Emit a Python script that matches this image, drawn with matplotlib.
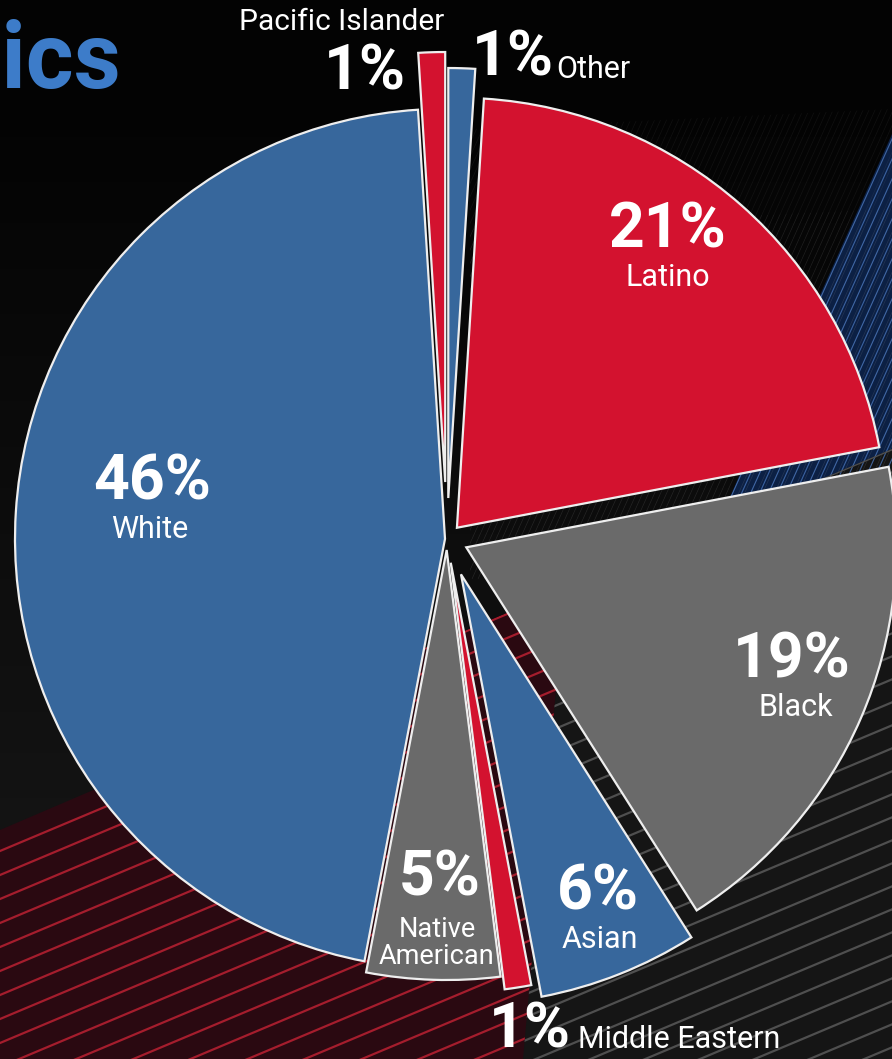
import numpy as np
import matplotlib
matplotlib.use("Agg")
import matplotlib.pyplot as plt
from matplotlib.patches import Polygon

# ---------------- data ----------------
categories = ["Other", "Latino", "Black", "Asian", "Middle Eastern",
              "Native American", "White", "Pacific Islander"]
values = [1, 21, 19, 6, 1, 5, 46, 1]
name_labels = ["Other", "Latino", "Black", "Asian", "Middle Eastern",
               "Native\nAmerican", "White", "Pacific Islander"]
title_text = "Demographics"

# ---------------- style ----------------
BLUE = "#37679c"
RED = "#d3122f"
GRAY = "#6a6a6a"
colors = [BLUE, RED, GRAY, BLUE, RED, GRAY, BLUE, RED]
explode = [41, 15, 21, 38, 24, 11, 2, 57]   # in pixel units (radius = 430)

W, H = 892, 1059
plt.rcParams["font.family"] = ["Roboto", "DejaVu Sans"]

fig = plt.figure(figsize=(W / 100, H / 100), dpi=100)
fig.patch.set_facecolor("#050505")
ax = fig.add_axes([0, 0, 1, 1])
ax.set_xlim(0, W)
ax.set_ylim(0, H)
ax.axis("off")

# ---------------- background ----------------
grad = np.clip(np.linspace(-0.15, 1.1, 256), 0, 1)[:, None]
ax.imshow(np.dstack([0.015 + 0.075 * grad] * 3), extent=(0, W, 0, H),
          origin="upper", aspect="auto", zorder=0)


def stripes(poly_pts, face, line_color, slope, spacing, lw, alpha=1.0, steep=False):
    poly = Polygon(poly_pts, closed=True, facecolor=face, edgecolor="none", zorder=0.2)
    ax.add_patch(poly)
    if face == "none":
        poly.set_visible(False)
    if not steep:
        xs = np.array([-200, W + 200])
        for b in np.arange(-800, H + 800, spacing):
            ln, = ax.plot(xs, slope * xs + b, color=line_color, lw=lw, alpha=alpha, zorder=0.3)
            ln.set_clip_path(poly)
    else:
        ys = np.array([-200, H + 200])
        for b in np.arange(-800, W + 800, spacing):
            ln, = ax.plot(slope * ys + b, ys, color=line_color, lw=lw, alpha=alpha, zorder=0.3)
            ln.set_clip_path(poly)


# faint steep texture, upper right (fading towards the top)
stripes([(470, 930), (892, 950), (892, 480), (470, 480)], "none", "#b0b0b0", 0.45, 6, 0.5, alpha=0.08, steep=True)
stripes([(470, 830), (892, 850), (892, 480), (470, 480)], "none", "#b0b0b0", 0.45, 6, 0.5, alpha=0.08, steep=True)
# blue band upper right
stripes([(892, 925), (743, 592), (690, 470), (892, 470)], "#0c2044", "#4a78c0", 0.45, 9, 0.8, alpha=0.75, steep=True)
# gray stripes lower right
stripes([(523, 0), (565, 471), (892, 610), (892, 0)], "#151515", "#4f4f4f", 0.42, 23, 1.6)
# red band lower left
stripes([(0, 229), (565, 471), (523, 0), (0, 0)], "#2a0911", "#a51d2d", 0.42, 24, 1.6)

# ---------------- pie ----------------
wedges, _ = ax.pie(values, explode=explode, colors=colors, startangle=90,
                   counterclock=False, center=(447, 520), radius=430,
                   frame=True,
                   wedgeprops=dict(edgecolor="#eeeeee", linewidth=1.6, zorder=2))
ax.set_xlim(0, W)
ax.set_ylim(0, H)
ax.set_aspect("equal")
ax.axis("off")

# ---------------- labels ----------------
pct_pos = {
    "White": (152, 576), "Latino": (668, 829), "Black": (792, 399),
    "Asian": (598, 166), "Native American": (440, 181),
    "Pacific Islander": (365, 987), "Other": (513, 1001),
    "Middle Eastern": (530, 29),
}
name_pos = {
    "White": (150, 529, "center", 22), "Latino": (668, 781, "center", 22),
    "Black": (796, 351, "center", 22), "Asian": (600, 119, "center", 22),
    "Native American": (437, 116, "center", 19.5),
    "Pacific Islander": (342, 1037, "center", 21.5),
    "Other": (556, 989, "left", 22),
    "Middle Eastern": (578, 19, "left", 22),
}
for cat, v, nm in zip(categories, values, name_labels):
    px, py = pct_pos[cat]
    ax.text(px, py, f"{v}%", ha="center", va="center", color="white",
            fontsize=45, fontweight="bold", zorder=5)
    nx, ny, ha, fs = name_pos[cat]
    ax.text(nx, ny, nm, ha=ha, va="center", color="white", fontsize=fs,
            linespacing=1.0, zorder=5)

ax.text(121, 971, title_text, ha="right", va="baseline", color="#3d7cc9",
        fontsize=66, fontweight="bold", zorder=5)

fig.savefig("out.png", dpi=100, facecolor=fig.get_facecolor())
